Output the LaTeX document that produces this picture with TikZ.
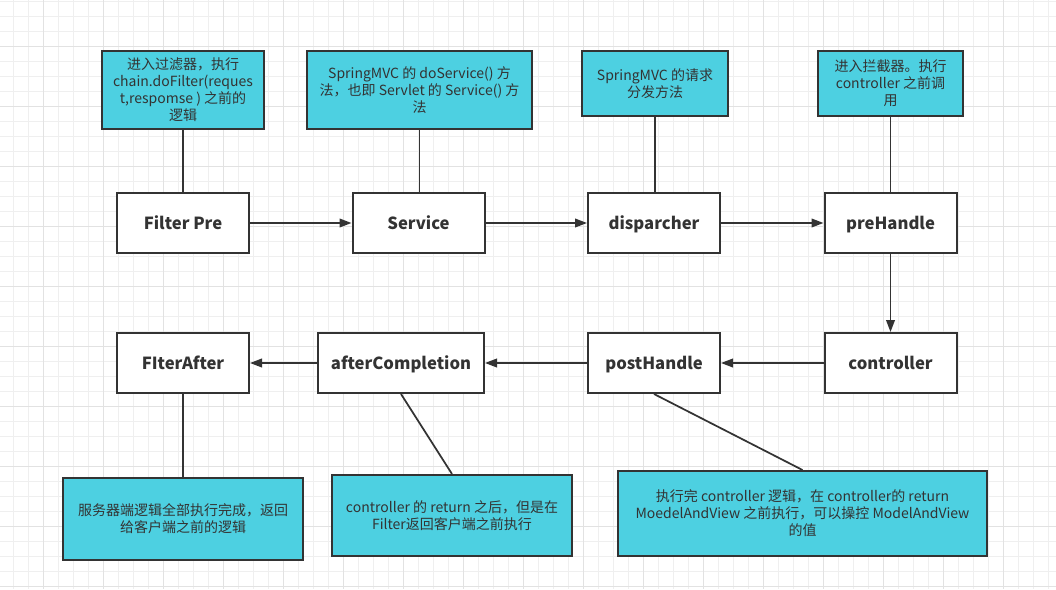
\documentclass[tikz,border=0pt]{standalone}
\usepackage{fontspec}
\setmainfont{Noto Sans CJK SC}
\usepackage{tikz}
\usetikzlibrary{arrows.meta, positioning, calc}
\definecolor{noteCyan}{HTML}{4DD0E1}
\definecolor{lineDark}{HTML}{333333}
\definecolor{gridMinor}{HTML}{EFEFEF}
\definecolor{gridMajor}{HTML}{E2E2E2}

\begin{document}
\begin{tikzpicture}[x=0.75pt, y=-0.75pt,
    mainBox/.style={draw=lineDark, line width=1.5pt, fill=white, text=lineDark,
        minimum width=99pt, minimum height=45pt, inner sep=0pt,
        text height=11.5pt, text depth=2pt,
        font=\fontsize{12.5}{14}\selectfont\bfseries},
    noteBox/.style={draw=lineDark, line width=1.5pt, fill=noteCyan, text=lineDark,
        align=center, inner sep=0pt, font=\fontsize{10.5}{12.75}\selectfont},
    flowArrow/.style={draw=lineDark, line width=1.3pt, -{Triangle[length=9pt, width=6.5pt]}},
    noteLine/.style={draw=lineDark, line width=1.3pt}]

    % Background and grid
    \useasboundingbox[fill=white] (0,0) rectangle (1056,589);
    \foreach \gx in {13.5,28.5,...,1056} {
        \draw[gridMinor, line width=0.75pt] (\gx,0) -- (\gx,589);
    }
    \foreach \gy in {1,16,...,589} {
        \draw[gridMinor, line width=0.75pt] (0,\gy) -- (1056,\gy);
    }
    \foreach \gx in {43.5,103.5,...,1056} {
        \draw[gridMajor, line width=0.75pt] (\gx,0) -- (\gx,589);
    }
    \foreach \gy in {46,106,...,589} {
        \draw[gridMajor, line width=0.75pt] (0,\gy) -- (1056,\gy);
    }

    % Main flow, top row
    \node[mainBox] (filterPre) at (183,223) {Filter Pre};
    \node[mainBox] (service) at (418.5,223) {Service};
    \node[mainBox] (disparcher) at (654,223) {disparcher};
    \node[mainBox] (preHandle) at (890.5,223) {preHandle};

    % Main flow, bottom row
    \node[mainBox] (controller) at (890.5,363) {controller};
    \node[mainBox] (postHandle) at (654,363) {postHandle};
    \node[mainBox, minimum width=124.5pt] (afterCompletion) at (401,363) {afterCompletion};
    \node[mainBox] (filterAfter) at (183,363) {FIterAfter};

    % Notes
    \node[noteBox, minimum width=121.5pt, minimum height=58.5pt] (noteFilterPre) at (183,90)
        {进入过滤器，执行\\chain.doFilter(reques\\t,respomse ) 之前的\\逻辑};
    \node[noteBox, minimum width=168.75pt, minimum height=58.5pt] (noteService) at (419.5,90)
        {SpringMVC 的 doService() 方\\法，也即 Servlet 的 Service() 方\\法};
    \node[noteBox, minimum width=109.5pt, minimum height=48.75pt] (noteDisparcher) at (655,83.5)
        {SpringMVC 的请求\\分发方法};
    \node[noteBox, minimum width=108.75pt, minimum height=48.75pt] (notePreHandle) at (890.5,83.5)
        {进入拦截器。执行\\controller 之前调\\用};
    \node[noteBox, minimum width=180pt, minimum height=61.5pt] (noteFilterAfter) at (183,519)
        {服务器端逻辑全部执行完成，返回\\给客户端之前的逻辑};
    \node[noteBox, minimum width=180pt, minimum height=60.75pt] (noteAfterCompletion) at (452,515.5)
        {controller 的 return 之后，但是在\\Filter返回客户端之前执行};
    \node[noteBox, minimum width=276.75pt, minimum height=63.75pt] (notePostHandle) at (802.5,513.5)
        {执行完 controller 逻辑，在 controller的 return\\MoedelAndView 之前执行，可以操控 ModelAndView\\的值};

    % Arrows
    \draw[flowArrow] (filterPre) -- (service);
    \draw[flowArrow] (service) -- (disparcher);
    \draw[flowArrow] (disparcher) -- (preHandle);
    \draw[flowArrow] (preHandle) -- (controller);
    \draw[flowArrow] (controller) -- (postHandle);
    \draw[flowArrow] (postHandle) -- (afterCompletion);
    \draw[flowArrow] (afterCompletion) -- (filterAfter);

    % Note links
    \draw[noteLine] (noteFilterPre) -- (filterPre);
    \draw[noteLine] (noteService.south) -- (noteService.south |- service.north);
    \draw[noteLine] (noteDisparcher.south) -- (noteDisparcher.south |- disparcher.north);
    \draw[noteLine] (notePreHandle.south) -- (notePreHandle.south |- preHandle.north);
    \draw[noteLine] (filterAfter) -- (noteFilterAfter);
    \draw[noteLine] (afterCompletion.south) -- (noteAfterCompletion.north);
    \draw[noteLine] (postHandle.south) -- (notePostHandle.north);
\end{tikzpicture}
\end{document}
